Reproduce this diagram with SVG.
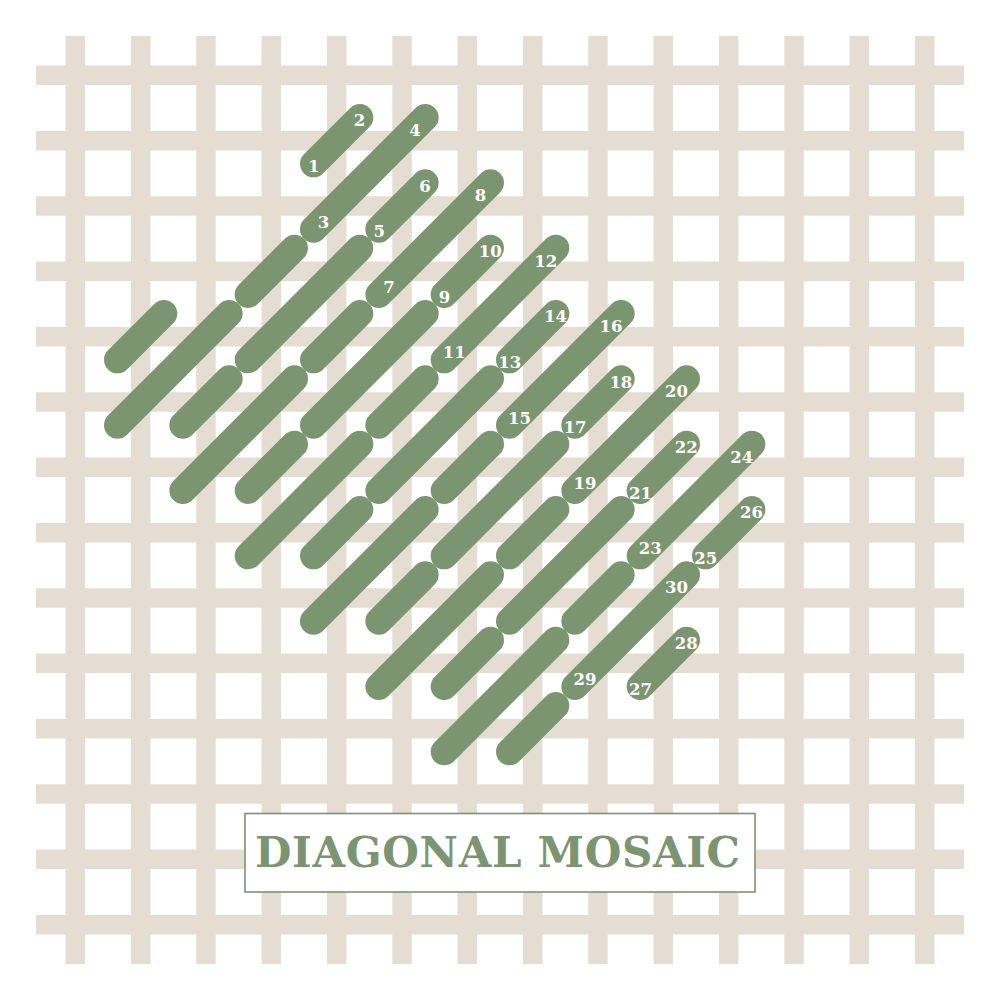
<svg xmlns="http://www.w3.org/2000/svg" width="1000" height="1000" viewBox="0 0 1000 1000">
<style>
.grid{stroke:#e6ddd2;stroke-width:19.5;fill:none;stroke-linecap:butt}
.st{stroke:#7b9571;stroke-width:27;stroke-linecap:round;fill:none}
.lb{font-family:"DejaVu Serif","Liberation Serif",serif;font-weight:bold;font-size:16.5px;fill:#ffffff;text-anchor:middle}
.title{font-family:"DejaVu Serif","Liberation Serif",serif;font-weight:bold;font-size:42px;fill:#7b9571;text-anchor:middle}
</style>
<rect width="1000" height="1000" fill="#ffffff"/>
<g id="canvas-grid">
<path class="grid" d="M75.33 36V964M140.67 36V964M206 36V964M271.33 36V964M336.67 36V964M402 36V964M467.33 36V964M532.67 36V964M598 36V964M663.33 36V964M728.67 36V964M794 36V964M859.33 36V964M924.67 36V964"/>
<path class="grid" d="M36 75.33H964M36 140.67H964M36 206H964M36 271.33H964M36 336.67H964M36 402H964M36 467.33H964M36 532.67H964M36 598H964M36 663.33H964M36 728.67H964M36 794H964M36 859.33H964M36 924.67H964"/>
</g>
<g id="stitches">
<g id="row-lower">
<line class="st" x1="117.5" y1="359.83" x2="163.83" y2="313.5"/>
<line class="st" x1="117.5" y1="425.17" x2="229.17" y2="313.5"/>
<line class="st" x1="182.83" y1="425.17" x2="229.17" y2="378.83"/>
<line class="st" x1="182.83" y1="490.5" x2="294.5" y2="378.83"/>
<line class="st" x1="248.17" y1="490.5" x2="294.5" y2="444.17"/>
<line class="st" x1="248.17" y1="555.83" x2="359.83" y2="444.17"/>
<line class="st" x1="313.5" y1="555.83" x2="359.83" y2="509.5"/>
<line class="st" x1="313.5" y1="621.17" x2="425.17" y2="509.5"/>
<line class="st" x1="378.83" y1="621.17" x2="425.17" y2="574.83"/>
<line class="st" x1="378.83" y1="686.5" x2="490.5" y2="574.83"/>
<line class="st" x1="444.17" y1="686.5" x2="490.5" y2="640.17"/>
<line class="st" x1="444.17" y1="751.83" x2="555.83" y2="640.17"/>
<line class="st" x1="509.5" y1="751.83" x2="555.83" y2="705.5"/>
</g>
<g id="row-middle">
<line class="st" x1="248.17" y1="294.5" x2="294.5" y2="248.17"/>
<line class="st" x1="248.17" y1="359.83" x2="359.83" y2="248.17"/>
<line class="st" x1="313.5" y1="359.83" x2="359.83" y2="313.5"/>
<line class="st" x1="313.5" y1="425.17" x2="425.17" y2="313.5"/>
<line class="st" x1="378.83" y1="425.17" x2="425.17" y2="378.83"/>
<line class="st" x1="378.83" y1="490.5" x2="490.5" y2="378.83"/>
<line class="st" x1="444.17" y1="490.5" x2="490.5" y2="444.17"/>
<line class="st" x1="444.17" y1="555.83" x2="555.83" y2="444.17"/>
<line class="st" x1="509.5" y1="555.83" x2="555.83" y2="509.5"/>
<line class="st" x1="509.5" y1="621.17" x2="621.17" y2="509.5"/>
<line class="st" x1="574.83" y1="621.17" x2="621.17" y2="574.83"/>
<g id="stitch-29-30"><line class="st" x1="574.83" y1="686.5" x2="686.5" y2="574.83"/><text class="lb" x="584.93" y="684.9">29</text><text class="lb" x="676.4" y="593.43">30</text></g>
<g id="stitch-27-28"><line class="st" x1="640.17" y1="686.5" x2="686.5" y2="640.17"/><text class="lb" x="640.47" y="694.7">27</text><text class="lb" x="686.2" y="648.97">28</text></g>
</g>
<g id="row-upper">
<g id="stitch-1-2"><line class="st" x1="313.5" y1="163.83" x2="359.83" y2="117.5"/><text class="lb" x="313.8" y="172">1</text><text class="lb" x="359.53" y="126.3">2</text></g>
<g id="stitch-3-4"><line class="st" x1="313.5" y1="229.17" x2="425.17" y2="117.5"/><text class="lb" x="323.6" y="227.57">3</text><text class="lb" x="415.07" y="136.1">4</text></g>
<g id="stitch-5-6"><line class="st" x1="378.83" y1="229.17" x2="425.17" y2="182.83"/><text class="lb" x="379.13" y="237.37">5</text><text class="lb" x="424.87" y="191.63">6</text></g>
<g id="stitch-7-8"><line class="st" x1="378.83" y1="294.5" x2="490.5" y2="182.83"/><text class="lb" x="388.93" y="292.9">7</text><text class="lb" x="480.4" y="201.43">8</text></g>
<g id="stitch-9-10"><line class="st" x1="444.17" y1="294.5" x2="490.5" y2="248.17"/><text class="lb" x="444.47" y="302.7">9</text><text class="lb" x="490.2" y="256.97">10</text></g>
<g id="stitch-11-12"><line class="st" x1="444.17" y1="359.83" x2="555.83" y2="248.17"/><text class="lb" x="454.27" y="358.23">11</text><text class="lb" x="545.73" y="266.77">12</text></g>
<g id="stitch-13-14"><line class="st" x1="509.5" y1="359.83" x2="555.83" y2="313.5"/><text class="lb" x="509.8" y="368.03">13</text><text class="lb" x="555.53" y="322.3">14</text></g>
<g id="stitch-15-16"><line class="st" x1="509.5" y1="425.17" x2="621.17" y2="313.5"/><text class="lb" x="519.6" y="423.57">15</text><text class="lb" x="611.07" y="332.1">16</text></g>
<g id="stitch-17-18"><line class="st" x1="574.83" y1="425.17" x2="621.17" y2="378.83"/><text class="lb" x="575.13" y="433.37">17</text><text class="lb" x="620.87" y="387.63">18</text></g>
<g id="stitch-19-20"><line class="st" x1="574.83" y1="490.5" x2="686.5" y2="378.83"/><text class="lb" x="584.93" y="488.9">19</text><text class="lb" x="676.4" y="397.43">20</text></g>
<g id="stitch-21-22"><line class="st" x1="640.17" y1="490.5" x2="686.5" y2="444.17"/><text class="lb" x="640.47" y="498.7">21</text><text class="lb" x="686.2" y="452.97">22</text></g>
<g id="stitch-23-24"><line class="st" x1="640.17" y1="555.83" x2="751.83" y2="444.17"/><text class="lb" x="650.27" y="554.23">23</text><text class="lb" x="741.73" y="462.77">24</text></g>
<g id="stitch-25-26"><line class="st" x1="705.5" y1="555.83" x2="751.83" y2="509.5"/><text class="lb" x="705.8" y="564.03">25</text><text class="lb" x="751.53" y="518.3">26</text></g>
</g>
</g>
<g id="title">
<rect x="245" y="813.5" width="510" height="78.5" fill="#ffffff" stroke="#7b9571" stroke-width="1.6"/>
<text class="title" x="497.5" y="867.3" textLength="485" lengthAdjust="spacing">DIAGONAL MOSAIC</text>
</g>
</svg>
